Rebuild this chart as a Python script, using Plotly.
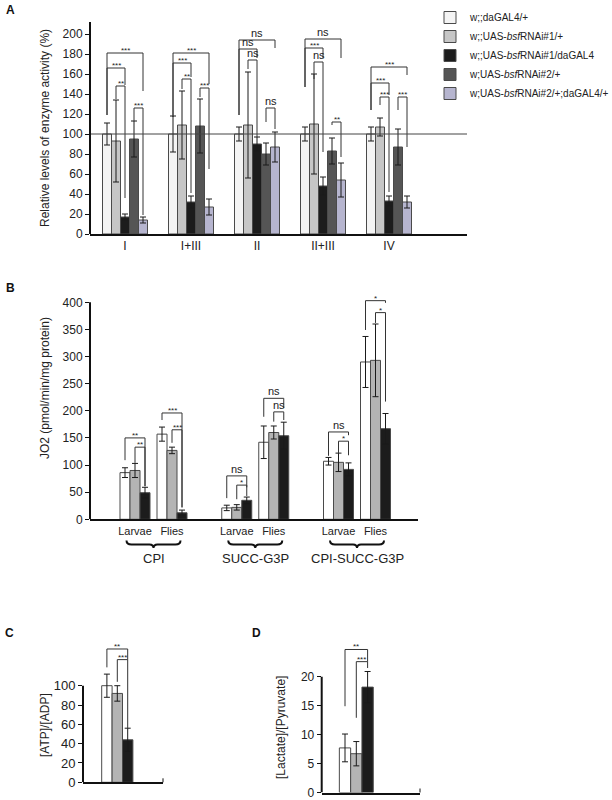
import plotly.graph_objects as go

W, H = 612, 800
FONT = "Liberation Sans, Arial, sans-serif"


def PX(x):
    return x / W


def PY(y):
    return 1 - y / H


# ---------------- Panel A data ----------------
a_categories = ["I", "I+III", "II", "II+III", "IV"]
a_names = [
    "w;;daGAL4/+",
    "w;;UAS-<i>bsf</i>RNAi#1/+",
    "w;;UAS-<i>bsf</i>RNAi#1/daGAL4",
    "w;UAS-<i>bsf</i>RNAi#2/+",
    "w;UAS-<i>bsf</i>RNAi#2/+;daGAL4/+",
]
a_ctrl = [100, 100, 100, 100, 100]
a_ctrl_err = [11, 18, 7, 7, 7]
a_rnai1 = [93, 109, 109, 110, 107]
a_rnai1_err = [41, 34, 53, 50, 9]
a_rnai1_da = [17, 32, 90, 48, 33]
a_rnai1_da_err = [3, 6, 7, 9, 5]
a_rnai2 = [95, 108, 80, 83, 87]
a_rnai2_err = [18, 27, 11, 13, 18]
a_rnai2_da = [14, 27, 87, 54, 32]
a_rnai2_da_err = [3, 8, 15, 17, 6]
a_reference = 100
a_yticks = [0, 20, 40, 60, 80, 100, 120, 140, 160, 180, 200]
# (group, bar_i, bar_j, top, left_bottom, right_bottom, label)
a_sig = [
    (0, 0, 4, 181, 119, 143, "***"), (0, 0, 2, 166, 119, 149, "***"),
    (0, 1, 2, 148, 135, 36, "**"), (0, 3, 4, 126, 113, 19, "***"),
    (1, 0, 4, 181, 117, 150, "***"), (1, 0, 2, 171, 117, 157, "***"),
    (1, 1, 2, 155, 145, 41, "**"), (1, 3, 4, 146, 137, 65, "***"),
    (2, 0, 4, 194, 119, 186, "ns"), (2, 0, 2, 185, 119, 176, "ns"),
    (2, 1, 2, 174, 165, 97, "ns"), (2, 3, 4, 126, 112, 105, "ns"),
    (3, 0, 4, 195, 147, 176, "ns"), (3, 0, 2, 186, 147, 176, "***"),
    (3, 1, 2, 172, 155, 82, "ns"), (3, 3, 4, 112, 109, 77, "**"),
    (4, 0, 4, 167, 124, 159, "***"), (4, 0, 2, 151, 124, 139, "***"),
    (4, 1, 2, 137, 129, 42, "***"), (4, 3, 4, 137, 124, 87, "***"),
]

# ---------------- Panel B data ----------------
b_substrates = ["CPI", "SUCC-G3P", "CPI-SUCC-G3P"]
b_stages = ["Larvae", "Flies"]
# order: CPI larvae, CPI flies, SUCC larvae, SUCC flies, CPI-SUCC larvae, CPI-SUCC flies
b_ctrl = [86, 157, 21, 142, 107, 290]
b_ctrl_err = [9, 13, 5, 30, 7, 47]
b_rnai1 = [90, 127, 22, 160, 105, 293]
b_rnai1_err = [13, 6, 5, 12, 17, 67]
b_rnai1_da = [49, 12, 35, 154, 92, 167]
b_rnai1_da_err = [10, 5, 6, 25, 12, 28]
b_yticks = [0, 50, 100, 150, 200, 250, 300, 350, 400]
# (subgroup, bar_i, bar_j, top, left_bottom, right_bottom, label)
b_sig = [
    (0, 0, 2, 150, 109, 61, "**"), (0, 1, 2, 133, 104, 61, "**"),
    (1, 0, 2, 196, 183, 22, "***"), (1, 1, 2, 165, 141, 22, "***"),
    (2, 0, 2, 80, 39, 59, "ns"), (2, 1, 2, 63, 37, 43, "*"),
    (3, 0, 2, 223, 189, 205, "ns"), (3, 1, 2, 198, 180, 183, "ns"),
    (4, 0, 2, 161, 117, 155, "ns"), (4, 1, 2, 144, 122, 118, "*"),
    (5, 0, 2, 403, 349, 399, "*"), (5, 1, 2, 381, 362, 217, "*"),
]

# ---------------- Panel C data ----------------
c_values = [100, 92, 44]
c_err = [12, 8, 12]
c_yticks = [0, 20, 40, 60, 80, 100]
c_sig = [(0, 2, 138, 119, 127, "**"), (1, 2, 127, 104, 55, "***")]

# ---------------- Panel D data ----------------
d_values = [7.7, 6.7, 18.2]
d_err = [2.4, 2.1, 2.7]
d_yticks = [0, 5, 10, 15, 20]
d_sig = [(0, 2, 24.7, 14.9, 22.6, "**"), (1, 2, 22.6, 12.9, 21.5, "***")]

a_colors = ["#f4f4f4", "#c6c6c6", "#1c1c1c", "#555555", "#b6b5cf"]
bcd_colors = ["#ffffff", "#b4b4b4", "#1c1c1c"]
OUTLINE = "#4a4a4a"
LINE = "#333333"

fig = go.Figure()
shapes = []
annotations = []

# -------- axis geometry (pixel based) --------
A_x0, A_x1, A_cx, A_unit = 90, 467, 125, 66
A_y0, A_ytop, A_ppu = 234, 14, 1.0
B_x0, B_x1, B_cx, B_unit = 90, 418, 135, 37
B_y0, B_ytop, B_ppu = 519.3, 292, 0.5425
C_x0, C_x1, C_cx, C_unit = 83, 163, 117.3, 10.4
C_y0, C_ytop, C_ppu = 782.3, 637.4, 0.966
D_x0, D_x1, D_cx, D_unit = 321.7, 420, 356.3, 11.3
D_y0, D_ytop, D_ppu = 792.5, 635.5, 5.79


def xrange_(x0, x1, cx, unit):
    return [(x0 - cx) / unit, (x1 - cx) / unit]


def yrange_(y0, ytop, ppu):
    return [0, (y0 - ytop) / ppu]


def bar_trace(x, y, err, color, name, xa, ya, width, offset, showlegend):
    return go.Bar(
        x=x, y=y, name=name, xaxis=xa, yaxis=ya, width=width, offset=offset,
        marker=dict(color=color, line=dict(color=OUTLINE, width=1)),
        error_y=dict(type="data", array=err, visible=True, color="#1a1a1a",
                     thickness=1, width=3),
        showlegend=showlegend, cliponaxis=False, hoverinfo="skip",
    )


def add_brackets(xref, yref, items, fontsize_star=8, fontsize_ns=11):
    for (xi, xj, top, lb, rb, lab) in items:
        shapes.append(dict(type="path", xref=xref, yref=yref,
                           path=f"M {xi},{lb} L {xi},{top} L {xj},{top} L {xj},{rb}",
                           line=dict(color=LINE, width=1)))
        is_ns = lab == "ns"
        annotations.append(dict(
            x=(xi + xj) / 2, y=top, xref=xref, yref=yref, text=lab, showarrow=False,
            yanchor="bottom", yshift=-1 if is_ns else -4,
            font=dict(size=fontsize_ns if is_ns else fontsize_star, color="#222", family=FONT)))


# -------- Panel A bars --------
a_series = [a_ctrl, a_rnai1, a_rnai1_da, a_rnai2, a_rnai2_da]
a_errs = [a_ctrl_err, a_rnai1_err, a_rnai1_da_err, a_rnai2_err, a_rnai2_da_err]
a_bw = 9 / A_unit
a_pos = list(range(len(a_categories)))
for k in range(5):
    fig.add_trace(bar_trace(a_pos, a_series[k], a_errs[k], a_colors[k], a_names[k],
                            "x", "y", a_bw, -2.5 * a_bw + k * a_bw, True))


def a_center(g, k):
    return g + (k - 2) * a_bw


add_brackets("x", "y", [(a_center(g, i), a_center(g, j), t, lb, rb, lab)
                        for (g, i, j, t, lb, rb, lab) in a_sig])

shapes.append(dict(type="line", xref="paper", yref="y", x0=PX(A_x0), x1=PX(A_x1),
                   y0=a_reference, y1=a_reference, line=dict(color="#444", width=1)))

# -------- Panel B bars --------
PAIR_GAP = 2.75
b_pos = [t + PAIR_GAP * p for p in range(len(b_substrates)) for t in range(len(b_stages))]
b_labels = [s for _ in b_substrates for s in b_stages]
b_bw = 10 / B_unit
b_series = [b_ctrl, b_rnai1, b_rnai1_da]
b_errs = [b_ctrl_err, b_rnai1_err, b_rnai1_da_err]
for k in range(3):
    fig.add_trace(bar_trace(b_pos, b_series[k], b_errs[k], bcd_colors[k], a_names[k],
                            "x2", "y2", b_bw, -1.5 * b_bw + k * b_bw, False))


def b_center(s, k):
    return b_pos[s] + (k - 1) * b_bw


add_brackets("x2", "y2", [(b_center(s, i), b_center(s, j), t, lb, rb, lab)
                          for (s, i, j, t, lb, rb, lab) in b_sig])

for p, sub in enumerate(b_substrates):
    c = 0.5 + PAIR_GAP * p
    hw = 27 / B_unit
    e = 5 / B_unit
    n = 4 / B_unit
    ya, yb, yc = PY(540.5), PY(544.5), PY(548)
    path = (f"M {c-hw},{ya} Q {c-hw},{yb} {c-hw+e},{yb} L {c-n},{yb} "
            f"Q {c},{yb} {c},{yc} Q {c},{yb} {c+n},{yb} L {c+hw-e},{yb} "
            f"Q {c+hw},{yb} {c+hw},{ya}")
    shapes.append(dict(type="path", xref="x2", yref="paper", path=path,
                       line=dict(color="#111", width=2)))
    annotations.append(dict(x=c, y=PY(558), xref="x2", yref="paper", text=sub,
                            showarrow=False, yanchor="middle",
                            font=dict(size=13, color="#222", family=FONT)))

# -------- Panel C bars --------
c_bw = 1.0
for k in range(3):
    fig.add_trace(bar_trace([0], [c_values[k]], [c_err[k]], bcd_colors[k], a_names[k],
                            "x3", "y3", c_bw, -1.5 * c_bw + k * c_bw, False))
add_brackets("x3", "y3", [((i - 1) * c_bw, (j - 1) * c_bw, t, lb, rb, lab)
                          for (i, j, t, lb, rb, lab) in c_sig])

# -------- Panel D bars --------
d_bw = 1.0
for k in range(3):
    fig.add_trace(bar_trace([0], [d_values[k]], [d_err[k]], bcd_colors[k], a_names[k],
                            "x4", "y4", d_bw, -1.5 * d_bw + k * d_bw, False))
add_brackets("x4", "y4", [((i - 1) * d_bw, (j - 1) * d_bw, t, lb, rb, lab)
                          for (i, j, t, lb, rb, lab) in d_sig])

for (ya, x0, top) in [("y", A_x0, 212), ("y2", B_x0, 400), ("y3", C_x0, 100), ("y4", D_x0, 20)]:
    shapes.append(dict(type="line", xref="paper", yref=ya, x0=PX(x0), x1=PX(x0),
                       y0=0, y1=top, line=dict(color="#111", width=2)))
for (x1, y0) in [(C_x1, C_y0), (D_x1, D_y0)]:
    shapes.append(dict(type="line", xref="paper", yref="paper", x0=PX(x1), x1=PX(x1),
                       y0=PY(y0), y1=PY(y0 - 4), line=dict(color="#111", width=1)))


def ytitle(text, x, y):
    annotations.append(dict(x=PX(x), y=PY(y), xref="paper", yref="paper", text=text,
                            textangle=-90, showarrow=False, xanchor="center", yanchor="middle",
                            font=dict(size=12, color="#222", family=FONT)))


ytitle("Relative levels of enzyme activity (%)", 45, 128)
ytitle("JO2 (pmol/min/mg protein)", 45, 388)
ytitle("[ATP]/[ADP]", 45, 725)
ytitle("[Lactate]/[Pyruvate]", 281, 728)

for (lab, x, y) in [("A", 10, 10), ("B", 10, 288), ("C", 9, 633), ("D", 256, 633)]:
    annotations.append(dict(x=PX(x), y=PY(y), xref="paper", yref="paper", text=f"<b>{lab}</b>",
                            showarrow=False, xanchor="center", yanchor="middle",
                            font=dict(size=12, color="#111", family=FONT)))

tickfont = dict(size=12, color="#222", family=FONT)


def xaxis_cfg(x0, x1, cx, unit, **kw):
    d = dict(domain=[PX(x0), PX(x1)], range=xrange_(x0, x1, cx, unit),
             showline=True, linewidth=2, linecolor="#111", showgrid=False,
             zeroline=False, ticks="", fixedrange=True, ticklabeloverflow="allow")
    d.update(kw)
    return d


def yaxis_cfg(y0, ytop, ppu, ticks, size=12, **kw):
    d = dict(domain=[PY(y0), PY(ytop)], range=yrange_(y0, ytop, ppu),
             showline=False, showgrid=False, zeroline=False, ticks="outside",
             ticklen=4, tickwidth=1, tickcolor="#111", tickvals=ticks,
             ticklabeloverflow="allow",
             tickfont=dict(size=size, color="#222", family=FONT), fixedrange=True)
    d.update(kw)
    return d


fig.update_layout(
    width=W, height=H, margin=dict(l=0, r=0, t=0, b=0, autoexpand=False),
    paper_bgcolor="white", plot_bgcolor="rgba(0,0,0,0)",
    barmode="overlay",
    font=dict(family=FONT, color="#222"),
    xaxis=xaxis_cfg(A_x0, A_x1, A_cx, A_unit, anchor="y",
                    tickvals=a_pos, ticktext=a_categories, tickfont=tickfont),
    yaxis=yaxis_cfg(A_y0, A_ytop, A_ppu, a_yticks, anchor="x"),
    xaxis2=xaxis_cfg(B_x0, B_x1, B_cx, B_unit, anchor="y2",
                     tickvals=b_pos, ticktext=b_labels,
                     tickfont=dict(size=11, color="#222", family=FONT)),
    yaxis2=yaxis_cfg(B_y0, B_ytop, B_ppu, b_yticks, anchor="x2"),
    xaxis3=xaxis_cfg(C_x0, C_x1, C_cx, C_unit, anchor="y3", showticklabels=False),
    yaxis3=yaxis_cfg(C_y0, C_ytop, C_ppu, c_yticks, size=13, anchor="x3"),
    xaxis4=xaxis_cfg(D_x0, D_x1, D_cx, D_unit, anchor="y4", showticklabels=False),
    yaxis4=yaxis_cfg(D_y0, D_ytop, D_ppu, d_yticks, size=12, anchor="x4"),
    legend=dict(x=PX(430), y=PY(3), xanchor="left", yanchor="top",
                font=dict(size=10, color="#222", family=FONT),
                bgcolor="rgba(0,0,0,0)", traceorder="normal"),
    shapes=shapes, annotations=annotations,
)

fig.write_html("out.html")
